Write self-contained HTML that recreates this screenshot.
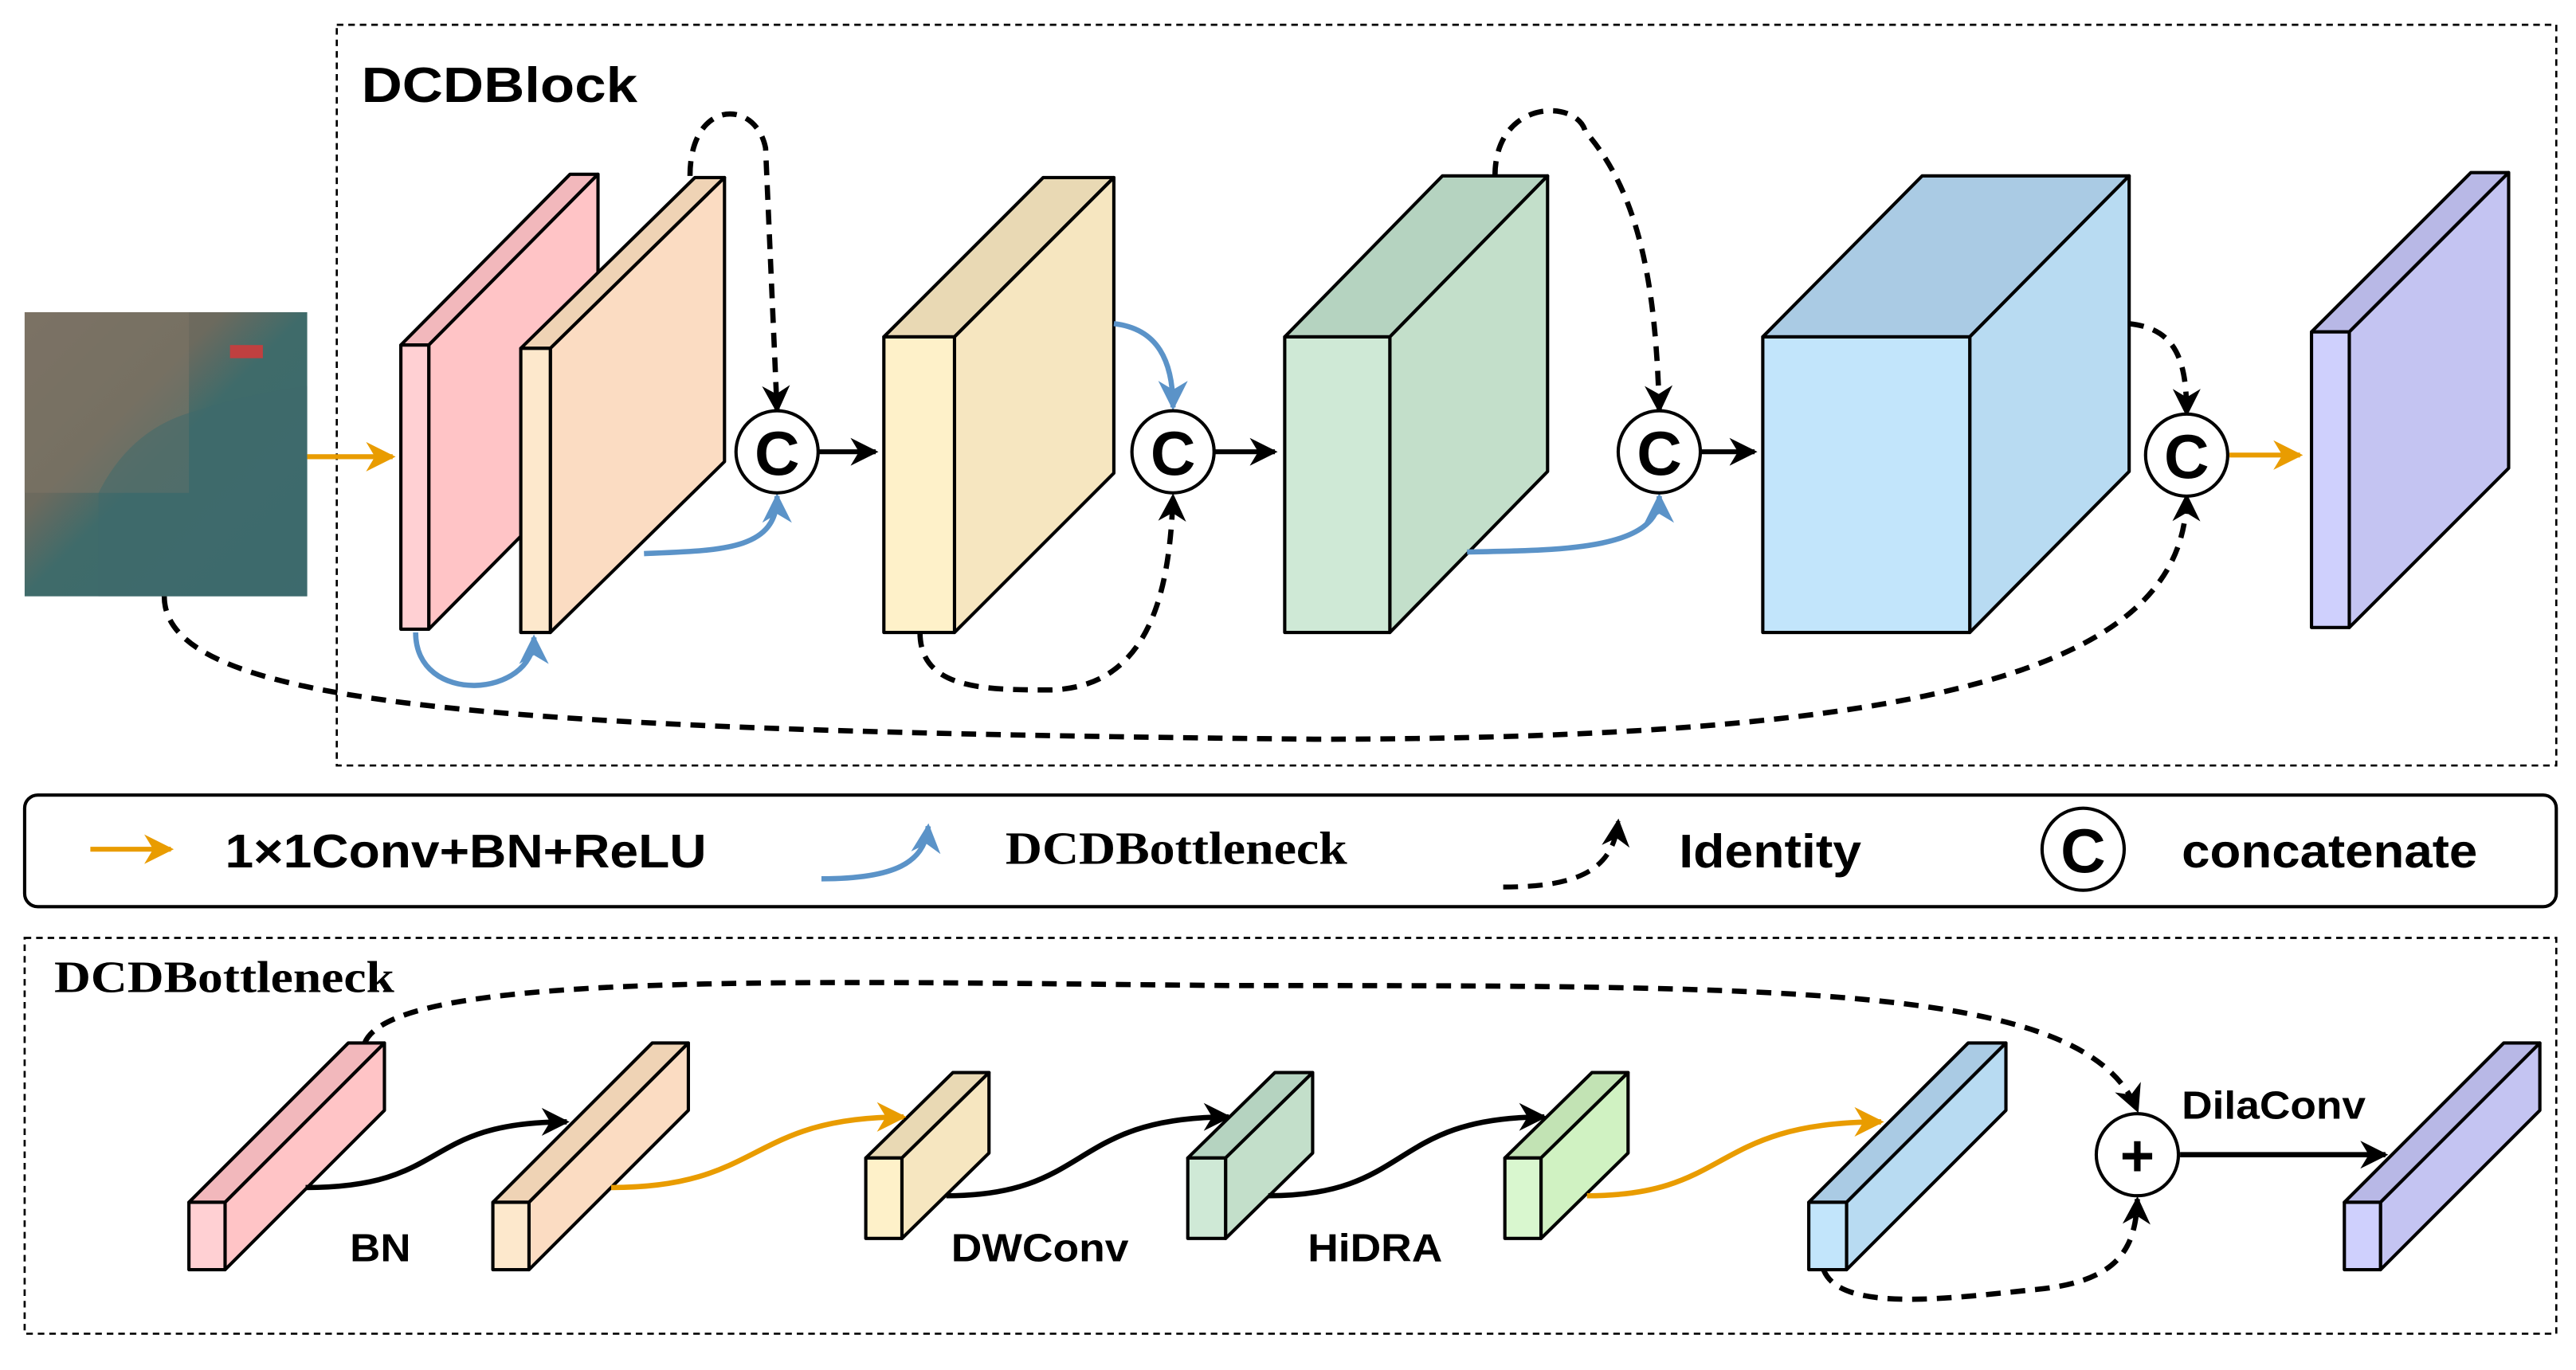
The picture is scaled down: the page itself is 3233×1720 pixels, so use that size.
<!DOCTYPE html>
<html><head><meta charset="utf-8"><style>html,body{margin:0;padding:0;background:#fff}svg{display:block}</style></head>
<body>
<svg width="3233" height="1720" viewBox="0 0 1568 834" xmlns="http://www.w3.org/2000/svg">
<defs>
<marker id="ak" viewBox="0 0 10 10" refX="9" refY="5" markerWidth="17" markerHeight="17" markerUnits="userSpaceOnUse" orient="auto"><path d="M0,0 L10,5 L0,10 L3,5 z" fill="#000"/></marker>
<marker id="ao" viewBox="0 0 10 10" refX="9" refY="5" markerWidth="18" markerHeight="18" markerUnits="userSpaceOnUse" orient="auto"><path d="M0,0 L10,5 L0,10 L3,5 z" fill="#e99c00"/></marker>
<marker id="ab" viewBox="0 0 10 10" refX="9" refY="5" markerWidth="18" markerHeight="18" markerUnits="userSpaceOnUse" orient="auto"><path d="M0,0 L10,5 L0,10 L3,5 z" fill="#5b93c8"/></marker>
<linearGradient id="sat" x1="0" y1="0" x2="1" y2="1">
<stop offset="0" stop-color="#7a6e62"/><stop offset="0.35" stop-color="#6c6a5e"/><stop offset="0.5" stop-color="#3f6b6a"/><stop offset="1" stop-color="#3c6a6e"/></linearGradient>
</defs>
<g font-family="Liberation Sans, sans-serif" font-weight="bold">
<rect x="205" y="15" width="1351" height="451" fill="none" stroke="#000" stroke-width="1.3" stroke-dasharray="4,3"/>
<text x="220" y="62" font-size="30" textLength="168" lengthAdjust="spacingAndGlyphs">DCDBlock</text>
<rect x="15" y="190" width="172" height="173" fill="url(#sat)"/>
<rect x="15" y="190" width="100" height="110" fill="#7d7466" opacity="0.6"/>
<rect x="140" y="210" width="20" height="8" fill="#c04040"/>
<path d="M60,300 Q80,260 120,250 Q150,240 187,235 L187,363 L60,363 z" fill="#3e6a6c" opacity="0.5"/>
<line x1="187" y1="278" x2="239" y2="278" stroke="#e99c00" stroke-width="3" marker-end="url(#ao)"/>
<g stroke="#000" stroke-width="2" stroke-linejoin="round">
<polygon points="244,210 347,106 364,106 261,210" fill="#f2b8bc"/><polygon points="261,210 364,106 364,279 261,383" fill="#ffc4c6"/><rect x="244" y="210" width="17" height="173" fill="#ffd0d3"/>
<polygon points="317,212 423,108 441,108 335,212" fill="#efd3b5"/><polygon points="335,212 441,108 441,281 335,385" fill="#fbdcc2"/><rect x="317" y="212" width="18" height="173" fill="#fde8cc"/>
<polygon points="538,205 635,108 678,108 581,205" fill="#e9d9b4"/><polygon points="581,205 678,108 678,288 581,385" fill="#f6e6c0"/><rect x="538" y="205" width="43" height="180" fill="#fef1c9"/>
<polygon points="782,205 878,107 942,107 846,205" fill="#b5d3c0"/><polygon points="846,205 942,107 942,287 846,385" fill="#c3dfca"/><rect x="782" y="205" width="64" height="180" fill="#cfe9d6"/>
<polygon points="1073,205 1170,107 1296,107 1199,205" fill="#aacbe4"/><polygon points="1199,205 1296,107 1296,287 1199,385" fill="#b8dbf2"/><rect x="1073" y="205" width="126" height="180" fill="#c2e5fb"/>
<polygon points="1407,202 1504,105 1527,105 1430,202" fill="#b8b8e6"/><polygon points="1430,202 1527,105 1527,285 1430,382" fill="#c4c4f2"/><rect x="1407" y="202" width="23" height="180" fill="#cfd0fd"/>
</g>
<g fill="none" stroke-width="3.2">
<path d="M420,107 C420,60 460,60 466,90 L473,250" stroke="#000" stroke-dasharray="9,6" marker-end="url(#ak)"/>
<path d="M392,337 C440,335 473,335 473,302" stroke="#5b93c8" marker-end="url(#ab)"/>
<path d="M253,385 C253,430 325,425 325,388" stroke="#5b93c8" marker-end="url(#ab)"/>
<path d="M678,197 C705,200 714,220 714,248" stroke="#5b93c8" marker-end="url(#ab)"/>
<path d="M560,385 C560,420 600,420 640,420 C700,418 712,360 714,302" stroke="#000" stroke-dasharray="9,6" marker-end="url(#ak)"/>
<path d="M910,107 C910,60 960,60 965,80 C1000,120 1008,180 1010,250" stroke="#000" stroke-dasharray="9,6" marker-end="url(#ak)"/>
<path d="M893,336 C950,335 1010,335 1010,302" stroke="#5b93c8" marker-end="url(#ab)"/>
<path d="M1296,197 C1325,200 1331,220 1331,252" stroke="#000" stroke-dasharray="9,6" marker-end="url(#ak)"/>
<path d="M100,363 C100,430 300,445 800,450 C1200,450 1330,400 1331,302" stroke="#000" stroke-dasharray="9,6" marker-end="url(#ak)"/>
</g>
<g stroke="#000" stroke-width="3">
<line x1="498" y1="275" x2="533" y2="275" marker-end="url(#ak)"/>
<line x1="739" y1="275" x2="776" y2="275" marker-end="url(#ak)"/>
<line x1="1035" y1="275" x2="1068" y2="275" marker-end="url(#ak)"/>
</g>
<line x1="1357" y1="277" x2="1400" y2="277" stroke="#e99c00" stroke-width="3" marker-end="url(#ao)"/>
<g stroke="#000" stroke-width="2" fill="#fff">
<circle cx="473" cy="275" r="25"/><circle cx="714" cy="275" r="25"/><circle cx="1010" cy="275" r="25"/><circle cx="1331" cy="277" r="25"/>
</g>
<g font-size="38" text-anchor="middle">
<text x="473" y="289">C</text><text x="714" y="289">C</text><text x="1010" y="289">C</text><text x="1331" y="291">C</text>
</g>
<rect x="15" y="484" width="1541" height="68" rx="8" fill="#fff" stroke="#000" stroke-width="2"/>
<line x1="55" y1="517" x2="104" y2="517" stroke="#e99c00" stroke-width="3" marker-end="url(#ao)"/>
<text x="137" y="528" font-size="29" textLength="293" lengthAdjust="spacingAndGlyphs">1×1Conv+BN+ReLU</text>
<path d="M500,535 C545,535 563,525 565,503" fill="none" stroke="#5b93c8" stroke-width="3.2" marker-end="url(#ab)"/>
<text x="612" y="526" font-size="28" font-family="Liberation Serif, serif" textLength="208" lengthAdjust="spacingAndGlyphs">DCDBottleneck</text>
<path d="M915,540 C960,540 982,530 985,500" fill="none" stroke="#000" stroke-width="3" stroke-dasharray="9,6" marker-end="url(#ak)"/>
<text x="1022" y="528" font-size="29" textLength="111" lengthAdjust="spacingAndGlyphs">Identity</text>
<circle cx="1268" cy="517" r="25" fill="#fff" stroke="#000" stroke-width="2"/>
<text x="1268" y="531" font-size="38" text-anchor="middle">C</text>
<text x="1328" y="528" font-size="29" textLength="180" lengthAdjust="spacingAndGlyphs">concatenate</text>
<rect x="15" y="571" width="1541" height="241" fill="none" stroke="#000" stroke-width="1.3" stroke-dasharray="4,3"/>
<text x="33" y="604" font-size="27" font-family="Liberation Serif, serif" textLength="207" lengthAdjust="spacingAndGlyphs">DCDBottleneck</text>
<g stroke="#000" stroke-width="2" stroke-linejoin="round">
<polygon points="115,732 212,635 234,635 137,732" fill="#f2b8bc"/><polygon points="137,732 234,635 234,676 137,773" fill="#ffc4c6"/><rect x="115" y="732" width="22" height="41" fill="#ffd0d3"/>
<polygon points="300,732 397,635 419,635 322,732" fill="#efd3b5"/><polygon points="322,732 419,635 419,676 322,773" fill="#fbdcc2"/><rect x="300" y="732" width="22" height="41" fill="#fde8cc"/>
<polygon points="527,705 580,653 602,653 549,705" fill="#e9d9b4"/><polygon points="549,705 602,653 602,702 549,754" fill="#f6e6c0"/><rect x="527" y="705" width="22" height="49" fill="#fef1c9"/>
<polygon points="723,705 776,653 799,653 746,705" fill="#b5d3c0"/><polygon points="746,705 799,653 799,702 746,754" fill="#c3dfca"/><rect x="723" y="705" width="23" height="49" fill="#cfe9d6"/>
<polygon points="916,705 969,653 991,653 938,705" fill="#c2e3b4"/><polygon points="938,705 991,653 991,702 938,754" fill="#d0f2c2"/><rect x="916" y="705" width="22" height="49" fill="#d9f7cf"/>
<polygon points="1101,732 1198,635 1221,635 1124,732" fill="#aacbe4"/><polygon points="1124,732 1221,635 1221,676 1124,773" fill="#b8dbf2"/><rect x="1101" y="732" width="23" height="41" fill="#c2e5fb"/>
<polygon points="1427,732 1524,635 1546,635 1449,732" fill="#b8b8e6"/><polygon points="1449,732 1546,635 1546,676 1449,773" fill="#c4c4f2"/><rect x="1427" y="732" width="22" height="41" fill="#cfd0fd"/>
</g>
<g fill="none" stroke-width="3.2">
<path d="M186,723 C275,723 255,683 345,683" stroke="#000" marker-end="url(#ak)"/>
<path d="M372,723 C465,723 455,680 550,680" stroke="#e99c00" marker-end="url(#ao)"/>
<path d="M576,728 C665,728 650,680 748,680" stroke="#000" marker-end="url(#ak)"/>
<path d="M772,728 C860,728 845,680 940,680" stroke="#000" marker-end="url(#ak)"/>
<path d="M966,728 C1055,728 1040,683 1145,683" stroke="#e99c00" marker-end="url(#ao)"/>
<path d="M222,635 C240,590 500,598 750,600 C1100,600 1270,600 1301,676" stroke="#000" stroke-dasharray="9,6" marker-end="url(#ak)"/>
<path d="M1110,773 C1120,800 1190,790 1240,785 C1290,780 1300,760 1301,730" stroke="#000" stroke-dasharray="9,6" marker-end="url(#ak)"/>
<line x1="1327" y1="703" x2="1452" y2="703" stroke="#000" marker-end="url(#ak)"/>
</g>
<circle cx="1301" cy="703" r="25" fill="#fff" stroke="#000" stroke-width="2"/>
<text x="1301" y="716" font-size="36" text-anchor="middle">+</text>
<g font-size="24">
<text x="213" y="768" textLength="37" lengthAdjust="spacingAndGlyphs">BN</text>
<text x="579" y="768" textLength="108" lengthAdjust="spacingAndGlyphs">DWConv</text>
<text x="796" y="768" textLength="82" lengthAdjust="spacingAndGlyphs">HiDRA</text>
<text x="1328" y="681" textLength="112" lengthAdjust="spacingAndGlyphs">DilaConv</text>
</g>
</g>
</svg>
</body></html>
